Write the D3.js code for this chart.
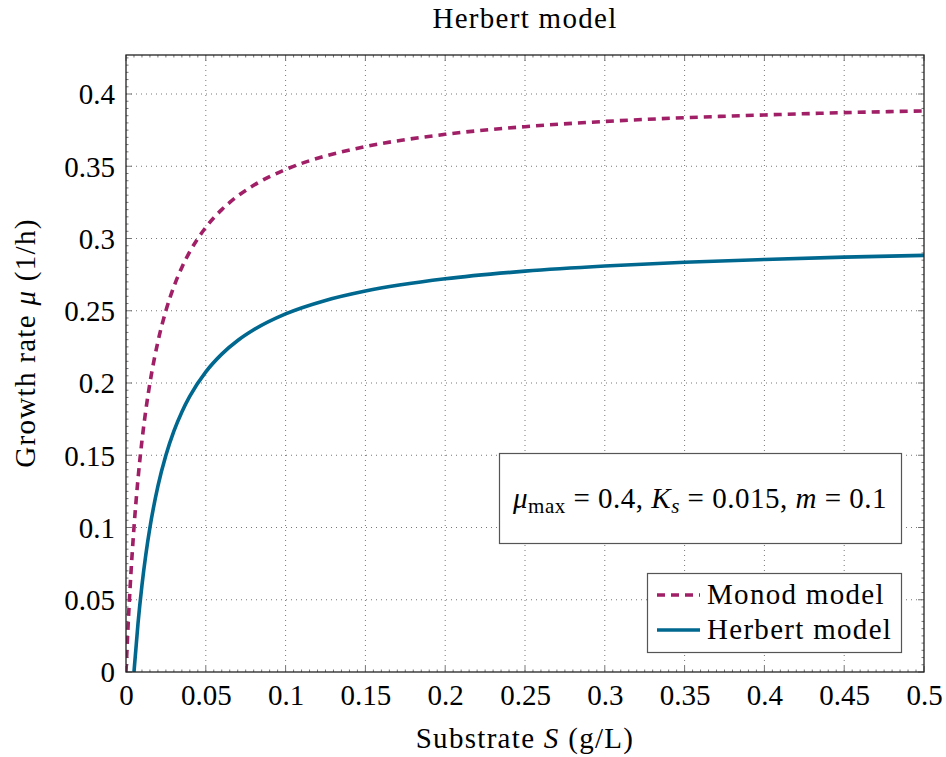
<!DOCTYPE html>
<html>
<head>
<meta charset="utf-8">
<script src="https://cdn.jsdelivr.net/npm/d3@7"></script>
<style>
  html, body { margin: 0; padding: 0; background: #fff; }
  svg { display: block; }
  text { font-family: "Liberation Serif", "DejaVu Serif", serif; fill: #000; }
</style>
</head>
<body>
<svg id="chart" width="946" height="757"></svg>
<script>
// ---- data ----
const monodS  = [0, 0.001, 0.0025, 0.005, 0.0075, 0.01, 0.0125, 0.015, 0.02, 0.025, 0.03, 0.035, 0.04, 0.05, 0.06, 0.07, 0.08, 0.1, 0.125, 0.15, 0.2, 0.25, 0.3, 0.35, 0.4, 0.45, 0.5];
const monodMu = [0, 0.025, 0.0571, 0.1, 0.1333, 0.16, 0.1818, 0.2, 0.2286, 0.25, 0.2667, 0.28, 0.2909, 0.3077, 0.32, 0.3294, 0.3368, 0.3478, 0.3571, 0.3636, 0.3721, 0.3774, 0.381, 0.3836, 0.3855, 0.3871, 0.3883];
const herbertS  = [0.005, 0.0075, 0.01, 0.0125, 0.015, 0.02, 0.025, 0.03, 0.035, 0.04, 0.05, 0.06, 0.07, 0.08, 0.1, 0.125, 0.15, 0.2, 0.25, 0.3, 0.35, 0.4, 0.45, 0.5];
const herbertMu = [0, 0.0333, 0.06, 0.0818, 0.1, 0.1286, 0.15, 0.1667, 0.18, 0.1909, 0.2077, 0.22, 0.2294, 0.2368, 0.2478, 0.2571, 0.2636, 0.2721, 0.2774, 0.281, 0.2836, 0.2855, 0.2871, 0.2883];
const xTicks = [0, 0.05, 0.1, 0.15, 0.2, 0.25, 0.3, 0.35, 0.4, 0.45, 0.5];
const yTicks = [0, 0.05, 0.1, 0.15, 0.2, 0.25, 0.3, 0.35, 0.4];
const seriesNames = ["Monod model", "Herbert model"];
const seriesColors = ["#a01f66", "#00678f"];

// ---- layout ----
const svg = d3.select("#chart");
const L = 126, R = 924, T = 55, B = 672;
const FS = 29, LS = "1.3px", LW = 3.6, DASH = "8,6";
const x = d3.scaleLinear().domain([0, 0.5]).range([L, R]);
const y = d3.scaleLinear().domain([0, 0.427]).range([B, T]);
const fmt = d => d === 0 ? "0" : String(+d.toFixed(3));

// grid
const grid = svg.append("g");
grid.selectAll(".gx").data(xTicks.slice(1, -1)).enter().append("line")
  .attr("x1", d => x(d)).attr("x2", d => x(d)).attr("y1", T).attr("y2", B)
  .attr("stroke", "#777").attr("stroke-width", 1).attr("stroke-dasharray", "1,4");
grid.selectAll(".gy").data(yTicks.slice(1)).enter().append("line")
  .attr("x1", L).attr("x2", R).attr("y1", d => y(d)).attr("y2", d => y(d))
  .attr("stroke", "#777").attr("stroke-width", 1).attr("stroke-dasharray", "1,4");

// minor ticks
const xMinor = d3.range(0, 101).map(i => i * 0.005).filter(v => Math.round(v * 1000) % 50 !== 0);
const yMinor = d3.range(0, 86).map(i => i * 0.005).filter(v => Math.round(v * 1000) % 50 !== 0 && v <= 0.427);
const ticks = svg.append("g").attr("stroke", "#777").attr("stroke-width", 1);
xMinor.forEach(v => {
  ticks.append("line").attr("x1", x(v)).attr("x2", x(v)).attr("y1", B).attr("y2", B - 2.5);
  ticks.append("line").attr("x1", x(v)).attr("x2", x(v)).attr("y1", T).attr("y2", T + 2.5);
});
yMinor.forEach(v => {
  ticks.append("line").attr("x1", L).attr("x2", L + 2.5).attr("y1", y(v)).attr("y2", y(v));
  ticks.append("line").attr("x1", R).attr("x2", R - 2.5).attr("y1", y(v)).attr("y2", y(v));
});
xTicks.forEach(v => {
  ticks.append("line").attr("x1", x(v)).attr("x2", x(v)).attr("y1", B).attr("y2", B - 6);
  ticks.append("line").attr("x1", x(v)).attr("x2", x(v)).attr("y1", T).attr("y2", T + 6);
});
yTicks.forEach(v => {
  ticks.append("line").attr("x1", L).attr("x2", L + 6).attr("y1", y(v)).attr("y2", y(v));
  ticks.append("line").attr("x1", R).attr("x2", R - 6).attr("y1", y(v)).attr("y2", y(v));
});

// axes labels via d3 axes (lines hidden)
const xAxis = svg.append("g").attr("transform", `translate(0,${B})`)
  .call(d3.axisBottom(x).tickValues(xTicks).tickFormat(fmt).tickSize(0).tickPadding(12));
const yAxis = svg.append("g").attr("transform", `translate(${L},0)`)
  .call(d3.axisLeft(y).tickValues(yTicks).tickFormat(fmt).tickSize(0).tickPadding(11));
[xAxis, yAxis].forEach(a => {
  a.select(".domain").remove();
  a.selectAll("text").style("font-family", '"Liberation Serif", serif').style("font-size", FS + "px").attr("fill", "#000");
});
xAxis.selectAll("text").attr("dy", "0.71em");
yAxis.selectAll("text").attr("dy", "0.34em");

// curves
const clip = svg.append("clipPath").attr("id", "clip").append("rect")
  .attr("x", L).attr("y", T).attr("width", R - L).attr("height", B - T);
const line = d3.line().x(d => x(d[0])).y(d => y(d[1])).curve(d3.curveMonotoneX);
const monod = monodS.map((s, i) => [s, monodMu[i]]);
const herbert = herbertS.map((s, i) => [s, herbertMu[i]]);
const curves = svg.append("g").attr("clip-path", "url(#clip)");
curves.append("path").datum(monod).attr("d", line).attr("fill", "none")
  .attr("stroke", seriesColors[0]).attr("stroke-width", LW).attr("stroke-dasharray", DASH);
curves.append("path").datum(herbert).attr("d", line).attr("fill", "none")
  .attr("stroke", seriesColors[1]).attr("stroke-width", LW);

// frame
svg.append("rect").attr("x", L).attr("y", T).attr("width", R - L).attr("height", B - T)
  .attr("fill", "none").attr("stroke", "#222").attr("stroke-width", 1.3);

// title and axis titles
svg.append("text").attr("x", 525).attr("y", 28).attr("text-anchor", "middle")
  .style("font-size", FS + "px").style("letter-spacing", LS).text("Herbert model");
const xl = svg.append("text").attr("x", 525).attr("y", 748).attr("text-anchor", "middle")
  .style("font-size", FS + "px").style("letter-spacing", LS);
xl.append("tspan").text("Substrate ");
xl.append("tspan").style("font-style", "italic").text("S");
xl.append("tspan").text(" (g/L)");
const yl = svg.append("text").attr("transform", "translate(35,343) rotate(-90)").attr("text-anchor", "middle")
  .style("font-size", FS + "px").style("letter-spacing", LS);
yl.append("tspan").text("Growth rate ");
yl.append("tspan").style("font-style", "italic").text("μ");
yl.append("tspan").text(" (1/h)");

// parameter box
svg.append("rect").attr("x", 499.5).attr("y", 453.5).attr("width", 402).attr("height", 90)
  .attr("fill", "#fff").attr("stroke", "#555").attr("stroke-width", 1.2);
const pt = svg.append("text").attr("x", 700).attr("y", 508).attr("text-anchor", "middle")
  .style("font-size", FS + "px").style("letter-spacing", "0.5px");
pt.append("tspan").style("font-style", "italic").text("μ");
pt.append("tspan").attr("dy", 5).style("font-size", "21px").text("max");
pt.append("tspan").attr("dy", -5).text(" = 0.4, ");
pt.append("tspan").style("font-style", "italic").text("K");
pt.append("tspan").attr("dy", 5).style("font-size", "21px").style("font-style", "italic").text("s");
pt.append("tspan").attr("dy", -5).text(" = 0.015, ");
pt.append("tspan").style("font-style", "italic").text("m");
pt.append("tspan").text(" = 0.1");

// legend
svg.append("rect").attr("x", 647.5).attr("y", 573.5).attr("width", 254).attr("height", 79)
  .attr("fill", "#fff").attr("stroke", "#555").attr("stroke-width", 1.2);
seriesNames.forEach((name, i) => {
  const yy = 595 + i * 35;
  svg.append("line").attr("x1", 657).attr("x2", 700).attr("y1", yy).attr("y2", yy)
    .attr("stroke", seriesColors[i]).attr("stroke-width", LW)
    .attr("stroke-dasharray", i === 0 ? DASH : null);
  svg.append("text").attr("x", 707).attr("y", yy + 9).style("font-size", FS + "px")
    .style("letter-spacing", LS).text(name);
});
</script>
</body>
</html>
